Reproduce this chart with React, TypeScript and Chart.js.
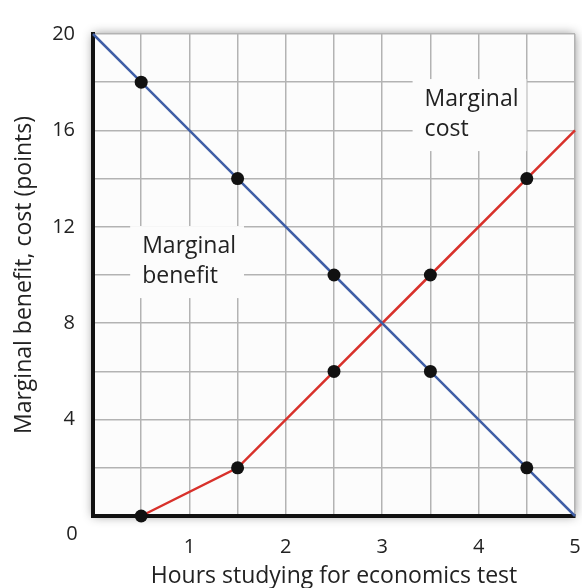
import React, { useEffect, useRef } from "react";
import { Chart, registerables } from "chart.js";

Chart.register(...registerables);

// Data
const benefitX = [0, 0.5, 1.5, 2.5, 3.5, 4.5, 5];
const benefitY = [20, 18, 14, 10, 6, 2, 0];
const costX = [0.5, 1.5, 2.5, 3.5, 4.5, 5];
const costY = [0, 2, 6, 10, 14, 16];
const dotXs = [0.5, 1.5, 2.5, 3.5, 4.5];
const xTickLabels = [1, 2, 3, 4, 5];
const yTickLabels = [4, 8, 12, 16, 20];

const xTitle = "Hours studying for economics test";
const yTitle = "Marginal benefit, cost (points)";
const costLabel = ["Marginal", "cost"];
const benefitLabel = ["Marginal", "benefit"];

const FONT = "'Open Sans', sans-serif";
const TEXT = "#222";

export default function App() {
  const ref = useRef<HTMLCanvasElement | null>(null);

  useEffect(() => {
    const canvas = ref.current;
    if (!canvas) return;

    const frame = {
      id: "frame",
      beforeDraw(chart: any) {
        const { ctx, chartArea: a } = chart;
        ctx.save();
        ctx.shadowColor = "rgba(0,0,0,0.45)";
        ctx.shadowBlur = 10;
        ctx.fillStyle = "#fcfcfc";
        ctx.fillRect(a.left, a.top, a.right - a.left, a.bottom - a.top);
        ctx.restore();
      },
      beforeDatasetsDraw(chart: any) {
        const { ctx } = chart;
        const xs = chart.scales.x;
        const ys = chart.scales.y;
        const drawLabel = (lines: string[], x: number, y: number) => {
          const px = xs.getPixelForValue(x);
          const py = ys.getPixelForValue(y);
          ctx.save();
          ctx.font = `23px ${FONT}`;
          const w = Math.max(...lines.map((l) => ctx.measureText(l).width));
          const lh = 30;
          ctx.fillStyle = "#fcfcfc";
          ctx.fillRect(px - 12, py - 20, w + 20, lines.length * lh + 12);
          ctx.fillStyle = TEXT;
          ctx.textBaseline = "middle";
          ctx.textAlign = "left";
          lines.forEach((l, i) => ctx.fillText(l, px, py + i * lh));
          ctx.restore();
        };
        drawLabel(costLabel, 3.44, 17.3);
        drawLabel(benefitLabel, 0.51, 11.2);
      },
      afterDraw(chart: any) {
        const { ctx } = chart;
        const xs = chart.scales.x;
        const ys = chart.scales.y;
        ctx.save();
        ctx.fillStyle = TEXT;
        ctx.font = `20px ${FONT}`;
        ctx.textAlign = "center";
        ctx.textBaseline = "middle";
        ctx.fillText("0", xs.left - 21, ys.getPixelForValue(0) + 18);
        ctx.translate(24, (chart.chartArea.top + chart.chartArea.bottom) / 2);
        ctx.rotate(-Math.PI / 2);
        ctx.font = `23px ${FONT}`;
        ctx.fillText(yTitle, 0, 0);
        ctx.restore();
      },
    };

    const isDot = (x: number) => dotXs.includes(x);

    const chart = new Chart(canvas, {
      type: "line",
      data: {
        datasets: [
          {
            label: "Marginal benefit",
            data: benefitX.map((x, i) => ({ x, y: benefitY[i] })),
            borderColor: "#3f5ea6",
            borderWidth: 2.5,
            pointRadius: (c: any) => (isDot(c.raw.x) ? 6.5 : 0),
            pointBackgroundColor: "#111",
            pointBorderWidth: 0,
            clip: false,
          },
          {
            label: "Marginal cost",
            data: costX.map((x, i) => ({ x, y: costY[i] })),
            borderColor: "#d8312b",
            borderWidth: 2.5,
            pointRadius: (c: any) => (isDot(c.raw.x) ? 6.5 : 0),
            pointBackgroundColor: "#111",
            pointBorderWidth: 0,
            clip: false,
          },
        ],
      },
      options: {
        animation: false,
        responsive: true,
        maintainAspectRatio: false,
        layout: { padding: { top: 34, right: 7, left: 0, bottom: 0 } },
        plugins: { legend: { display: false }, tooltip: { enabled: false } },
        scales: {
          x: {
            type: "linear",
            min: 0,
            max: 5,
            afterFit: (s: any) => {
              s.height = 72;
              s.paddingRight = 0;
              s.paddingLeft = 0;
            },
            grid: { color: "#b3b3b3", lineWidth: 1.5, drawTicks: false },
            border: { color: "#111", width: 4 },
            ticks: {
              stepSize: 0.5,
              padding: 19,
              color: TEXT,
              font: { family: FONT, size: 20 },
              maxRotation: 0,
              autoSkip: false,
              callback: (v: any) => (xTickLabels.includes(Number(v)) ? String(v) : ""),
            },
            title: {
              display: true,
              text: xTitle,
              color: TEXT,
              font: { family: FONT, size: 23 },
              padding: { top: 0, bottom: -2 },
            },
          },
          y: {
            type: "linear",
            min: 0,
            max: 20,
            afterFit: (s: any) => {
              s.width = 93;
              s.paddingTop = 0;
              s.paddingBottom = 0;
            },
            grid: { color: "#b3b3b3", lineWidth: 1.5, drawTicks: false },
            border: { color: "#111", width: 4 },
            ticks: {
              stepSize: 2,
              padding: 18,
              color: TEXT,
              font: { family: FONT, size: 20 },
              autoSkip: false,
              callback: (v: any) => (yTickLabels.includes(Number(v)) ? String(v) : ""),
            },
          },
        },
      },
      plugins: [frame],
    } as any);

    return () => chart.destroy();
  }, []);

  return (
    <div style={{ position: "absolute", left: 0, top: 0, width: 582, height: 588, background: "#fff" }}>
      <canvas ref={ref} />
    </div>
  );
}
